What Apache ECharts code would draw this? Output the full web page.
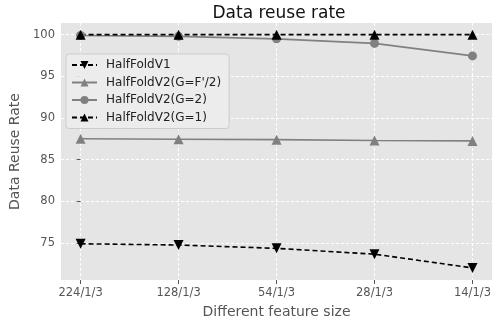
<!DOCTYPE html>
<html>
<head>
<meta charset="utf-8">
<script src="https://cdn.jsdelivr.net/npm/echarts@6/dist/echarts.min.js"></script>
<style>
  html, body { margin: 0; padding: 0; background: #fff; }
  #chart { width: 494px; height: 324px; }
</style>
</head>
<body>
<div id="chart"></div>
<script>
// 数据
const featureSizes = ["224/1/3", "128/1/3", "54/1/3", "28/1/3", "14/1/3"];
const halfFoldV1 = [74.9, 74.75, 74.35, 73.65, 72.0];
const halfFoldV2Half = [87.5, 87.45, 87.4, 87.3, 87.25];
const halfFoldV2G2 = [99.9, 99.8, 99.5, 98.95, 97.45];
const halfFoldV2G1 = [100, 100, 100, 100, 100];
const yTicks = [75, 80, 85, 90, 95, 100];
const xTicks = [0, 1, 2, 3, 4];

const font = "DejaVu Sans";
const toPairs = arr => arr.map((v, i) => [i, v]);

function mkSeries(name, data, color, dashed, symbol, rotate) {
    return {
        name, type: "line", data: toPairs(data),
        symbol, symbolSize: symbol === "circle" ? 9 : 10, symbolRotate: rotate || 0,
        itemStyle: { color, borderWidth: 0 },
        lineStyle: { color, width: 1.6, type: dashed ? [5, 3] : "solid" },
        emphasis: { disabled: true }, animation: false
    };
}

const chart = echarts.init(document.getElementById("chart"), null, { renderer: "canvas" });
chart.setOption({
    animation: false,
    title: {
        text: "Data reuse rate", left: 274, top: 0, textAlign: "center",
        textStyle: { fontFamily: font, fontSize: 17, fontWeight: "normal", color: "#111" }
    },
    grid: {
        left: 61, top: 23, width: 435, height: 258, show: true,
        backgroundColor: "#E5E5E5", borderWidth: 0, containLabel: false
    },
    legend: {
        orient: "vertical", left: 66, top: 54,
        padding: [5, 8, 5, 5], itemGap: 5.5, itemWidth: 25, itemHeight: 10,
        backgroundColor: "rgba(236,236,236,0.9)", borderColor: "#CCCCCC", borderWidth: 1, borderRadius: 3,
        textStyle: { fontFamily: font, fontSize: 12, color: "#222", padding: [0, 0, 0, 4] },
        data: ["HalfFoldV1", "HalfFoldV2(G=F'/2)", "HalfFoldV2(G=2)", "HalfFoldV2(G=1)"]
    },
    xAxis: {
        type: "value", min: -0.2, max: 4.2,
        name: "Different feature size", nameLocation: "middle", nameGap: 25,
        nameTextStyle: { fontFamily: font, fontSize: 14, color: "#555" },
        axisLine: { show: false },
        axisTick: { show: true, length: 4, customValues: xTicks, lineStyle: { color: "#555" } },
        axisLabel: {
            customValues: xTicks, fontFamily: font, fontSize: 11.5, color: "#555", margin: 7,
            formatter: v => featureSizes[Math.round(v)] || ""
        },
        splitLine: { show: true, lineStyle: { color: "#fff", width: 1, type: [3, 2] } }
    },
    yAxis: {
        type: "value", min: 70.55, max: 101.4,
        name: "Data Reuse Rate", nameLocation: "middle", nameGap: 36,
        nameTextStyle: { fontFamily: font, fontSize: 14, color: "#555" },
        axisLine: { show: false },
        axisTick: { show: true, length: 4, customValues: yTicks, lineStyle: { color: "#555" } },
        axisLabel: { customValues: yTicks, fontFamily: font, fontSize: 11.5, color: "#555", margin: 6 },
        splitLine: { show: true, lineStyle: { color: "#fff", width: 1, type: [3, 2] } }
    },
    series: [
        mkSeries("HalfFoldV1", halfFoldV1, "#000", true, "triangle", 180),
        mkSeries("HalfFoldV2(G=F'/2)", halfFoldV2Half, "#808080", false, "triangle"),
        mkSeries("HalfFoldV2(G=2)", halfFoldV2G2, "#808080", false, "circle"),
        mkSeries("HalfFoldV2(G=1)", halfFoldV2G1, "#000", true, "triangle")
    ]
});
</script>
</body>
</html>
